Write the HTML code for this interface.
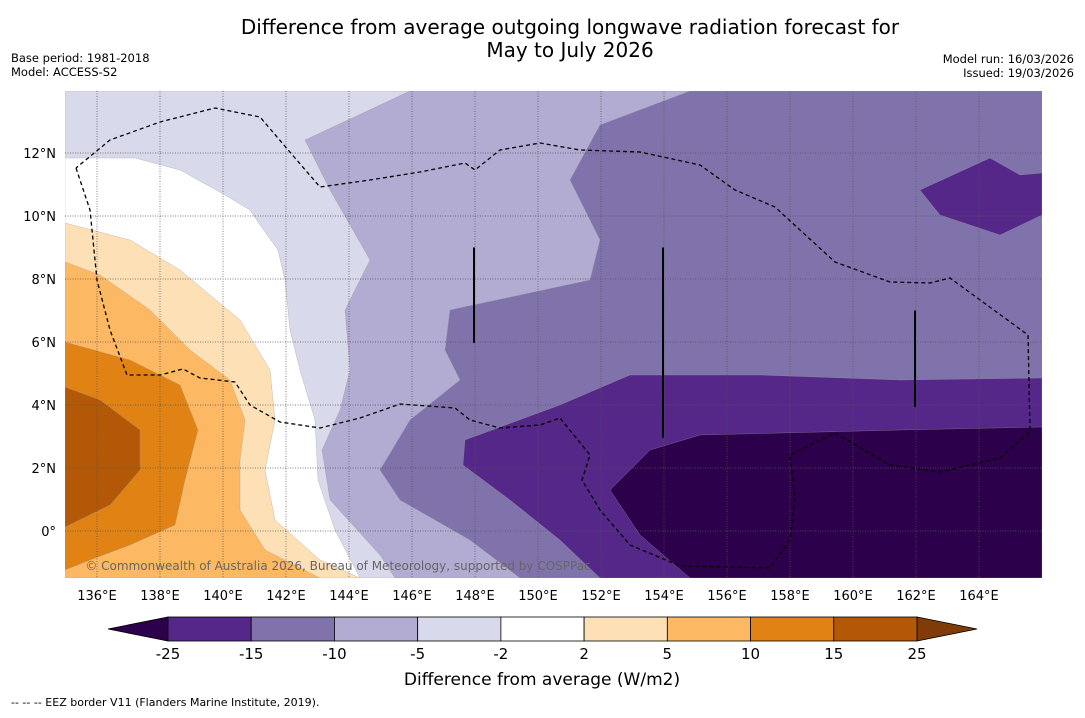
<!DOCTYPE html>
<html><head><meta charset="utf-8">
<style>
body{margin:0;background:#fff;font-family:"Liberation Sans","DejaVu Sans",sans-serif;}
svg text{font-family:"DejaVu Sans","Liberation Sans",sans-serif;}
</style></head>
<body>
<svg width="1085" height="713" viewBox="0 0 1085 713" xmlns="http://www.w3.org/2000/svg">
<text x="570" y="34" font-size="20" text-anchor="middle">Difference from average outgoing longwave radiation forecast for</text>
<text x="570" y="57" font-size="20" text-anchor="middle">May to July 2026</text>
<text x="11" y="62" font-size="11.5">Base period: 1981-2018</text>
<text x="11" y="76" font-size="11.5">Model: ACCESS-S2</text>
<text x="1074" y="63" font-size="11.5" text-anchor="end">Model run: 16/03/2026</text>
<text x="1074" y="77" font-size="11.5" text-anchor="end">Issued: 19/03/2026</text>
<defs><clipPath id="mapclip"><rect x="65" y="91" width="977" height="487"/></clipPath></defs>
<g id="map" clip-path="url(#mapclip)"></g>
<g id="axes"></g>
<g id="cbar"></g>
<text x="542" y="685" font-size="17" text-anchor="middle">Difference from average (W/m2)</text>
<text x="11" y="706" font-size="11">--  --  -- EEZ border V11 (Flanders Marine Institute, 2019).</text>
</svg>
<script>
const NS="http://www.w3.org/2000/svg";
// axis data
const lonTicks=[136,138,140,142,144,146,148,150,152,154,156,158,160,162,164];
const latTicks=[0,2,4,6,8,10,12];
const cbLevels=[-25,-15,-10,-5,-2,2,5,10,15,25];
const cbColors=["#542788","#8073ac","#b2abd2","#d8daeb","#ffffff","#fee0b6","#fdb863","#e08214","#b35806"];
const underColor="#2d004b", overColor="#7f3b08";
// contour regions in pixel-derived positions, drawn in order
const regionColors=["#d8daeb","#ffffff","#b2abd2","#8073ac","#542788","#542788","#2d004b","#fee0b6","#fdb863","#e08214","#b35806"];
const regionPx=[
 [[65,91],[1042,91],[1042,578],[65,578]],
 [[65,158],[135,158],[180,170],[225,195],[250,210],[260,225],[278,250],[285,280],[290,330],[300,370],[315,420],[318,480],[335,530],[360,578],[65,578]],
 [[410,91],[1042,91],[1042,578],[395,578],[380,555],[330,500],[322,450],[340,410],[350,370],[345,310],[370,260],[330,190],[305,140]],
 [[690,91],[1042,91],[1042,578],[520,578],[470,540],[400,500],[380,470],[410,420],[460,380],[445,350],[450,310],[590,280],[600,240],[570,180],[600,125]],
 [[1042,378],[1042,578],[600,578],[560,540],[510,500],[463,465],[465,440],[560,405],[630,375],[760,375],[900,380]],
 [[920,190],[990,158],[1020,175],[1042,173],[1042,215],[1000,235],[940,215]],
 [[1042,427],[1042,578],[690,578],[640,535],[610,490],[650,450],[700,435],[900,430]],
 [[65,223],[130,240],[180,270],[240,320],[270,370],[275,420],[265,470],[275,520],[320,560],[360,578],[65,578]],
 [[65,262],[100,275],[150,310],[190,350],[230,380],[245,420],[240,460],[240,510],[265,550],[320,578],[65,578]],
 [[65,342],[130,360],[180,385],[198,430],[185,480],[175,525],[130,545],[90,560],[65,570]],
 [[65,387],[100,400],[140,430],[140,470],[110,505],[65,527]]
];
const X=lon=>97+(lon-136)*31.5, Y=lat=>531-lat*31.5;
const lonOf=x=>136+(x-97)/31.5, latOf=y=>(531-y)/31.5;
const regions=regionPx.map(r=>r.map(p=>[lonOf(p[0]),latOf(p[1])]));
const map=document.getElementById('map');
regions.forEach((r,i)=>{
 const p=document.createElementNS(NS,'polygon');
 p.setAttribute('points',r.map(q=>X(q[0])+','+Y(q[1])).join(' '));
 p.setAttribute('fill',regionColors[i]);
 p.setAttribute('stroke','#999');p.setAttribute('stroke-width','0.3');
 
 
 map.appendChild(p);
});
// grid
lonTicks.forEach(lon=>{
 const l=document.createElementNS(NS,'line');
 l.setAttribute('x1',X(lon));l.setAttribute('x2',X(lon));l.setAttribute('y1',91);l.setAttribute('y2',578);
 l.setAttribute('stroke','#555');l.setAttribute('stroke-width','0.7');l.setAttribute('stroke-dasharray','1,1.5');
 
 
 map.appendChild(l);
});
latTicks.forEach(lat=>{
 const l=document.createElementNS(NS,'line');
 l.setAttribute('x1',65);l.setAttribute('x2',1042);l.setAttribute('y1',Y(lat));l.setAttribute('y2',Y(lat));
 l.setAttribute('stroke','#555');l.setAttribute('stroke-width','0.7');l.setAttribute('stroke-dasharray','1,1.5');
 
 
 map.appendChild(l);
});
// EEZ dashed
const eez=[[76,168],[90,210],[97,280],[110,330],[127,375],[160,375],[183,369],[200,378],[235,382],[250,405],[280,422],[320,428],[360,418],[400,404],[455,408],[470,420],[500,428],[540,425],[560,418],[590,455],[582,480],[600,510],[630,545],[680,566],[770,568],[790,540],[795,500],[790,455],[835,433],[890,465],[940,472],[1000,458],[1030,432],[1028,335],[950,278],[930,283],[890,282],[835,262],[800,230],[775,207],[735,190],[700,165],[640,152],[580,150],[540,143],[500,150],[475,170],[465,163],[420,172],[370,180],[320,187],[295,158],[260,117],[215,108],[160,122],[110,140],[76,168]];
const ep=document.createElementNS(NS,'polyline');
ep.setAttribute('points',eez.map(p=>p.join(',')).join(' '));
ep.setAttribute('fill','none');ep.setAttribute('stroke','#000');ep.setAttribute('stroke-width','1.3');ep.setAttribute('stroke-dasharray','4,3');


map.appendChild(ep);
// vertical black boundary segments: lon, lat bottom, lat top
const segs=[[148,5.97,9],[154,2.96,9],[162,3.94,7]];
segs.forEach(v=>{
 const l=document.createElementNS(NS,'line');
 l.setAttribute('x1',X(v[0])-1);l.setAttribute('x2',X(v[0])-1);l.setAttribute('y1',Y(v[2]));l.setAttribute('y2',Y(v[1]));
 l.setAttribute('stroke','#000');l.setAttribute('stroke-width','2');
 
 
 map.appendChild(l);
});
const cr=document.createElementNS(NS,'text');
cr.setAttribute('x',338);cr.setAttribute('y',570);cr.setAttribute('font-size','12');cr.setAttribute('text-anchor','middle');cr.setAttribute('fill','#666');
cr.textContent='© Commonwealth of Australia 2026, Bureau of Meteorology, supported by COSPPac';


map.appendChild(cr);
// axes labels
const axes=document.getElementById('axes');
lonTicks.forEach(lon=>{
 const t=document.createElementNS(NS,'text');
 t.setAttribute('x',X(lon));t.setAttribute('y',600);t.setAttribute('font-size','13');t.setAttribute('text-anchor','middle');
 t.textContent=lon+'°E';
 
 
 axes.appendChild(t);
});
latTicks.forEach(lat=>{
 const t=document.createElementNS(NS,'text');
 t.setAttribute('x',56);t.setAttribute('y',Y(lat)+5);t.setAttribute('font-size','13');t.setAttribute('text-anchor','end');
 t.textContent=lat===0?'0°':lat+'°N';
 
 
 axes.appendChild(t);
});
// colorbar
const cb=document.getElementById('cbar');
const cx0=168,cx1=917,cy=617,ch=24,segW=(cx1-cx0)/cbColors.length;
const tri=(pts,fill,name)=>{const p=document.createElementNS(NS,'polygon');p.setAttribute('points',pts);p.setAttribute('fill',fill);p.setAttribute('stroke','#000');p.setAttribute('stroke-width','0.8');
 
 
 cb.appendChild(p);};
tri(`${cx0},${cy} ${cx0},${cy+ch} 108,${cy+ch/2}`,underColor,'colorbar-extend-low');
tri(`${cx1},${cy} ${cx1},${cy+ch} 977,${cy+ch/2}`,overColor,'colorbar-extend-high');
cbColors.forEach((c,i)=>{
 const r=document.createElementNS(NS,'rect');
 r.setAttribute('x',cx0+i*segW);r.setAttribute('y',cy);r.setAttribute('width',segW);r.setAttribute('height',ch);
 r.setAttribute('fill',c);r.setAttribute('stroke','#000');r.setAttribute('stroke-width','0.8');
 
 
 cb.appendChild(r);
});
cbLevels.forEach((v,i)=>{
 const t=document.createElementNS(NS,'text');
 t.setAttribute('x',cx0+i*segW);t.setAttribute('y',659);t.setAttribute('font-size','15');t.setAttribute('text-anchor','middle');
 t.textContent=v;
 
 
 cb.appendChild(t);
});
</script>
</body></html>
